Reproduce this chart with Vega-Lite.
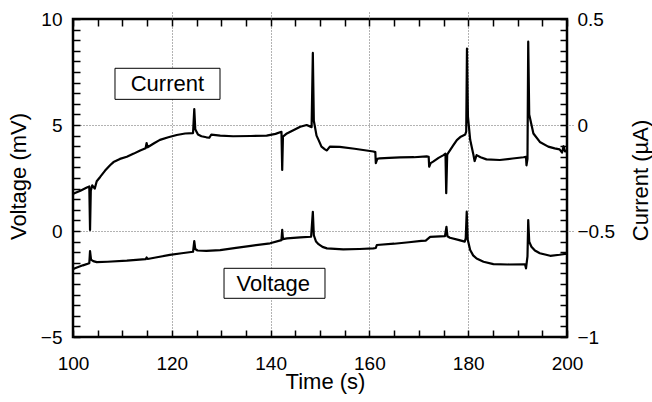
{
  "$schema": "https://vega.github.io/schema/vega-lite/v6.json",
  "width": 494,
  "height": 318,
  "autosize": "none",
  "padding": {"left": 73, "top": 19, "right": 85, "bottom": 65},
  "background": "white",
  "config": {
    "font": "Liberation Sans",
    "view": {"stroke": "black", "strokeWidth": 2.5},
    "axis": {
      "labelFont": "Liberation Sans",
      "titleFont": "Liberation Sans",
      "labelColor": "black",
      "titleColor": "black",
      "titleFontWeight": "normal",
      "labelFontSize": 19,
      "titleFontSize": 22,
      "domain": false,
      "labelOverlap": false,
      "labelFlush": false,
      "labelBound": false,
      "ticks": true,
      "tickSize": 7,
      "tickWidth": 1.5,
      "tickColor": "black",
      "tickCount": 200,
      "offset": -7
    }
  },
  "datasets": {
    "voltage": [
      {"t": 100.0, "mV": -1.8}, {"t": 100.4, "mV": -1.76}, {"t": 102.0, "mV": -1.62}, {"t": 103.3, "mV": -1.52},
      {"t": 103.45, "mV": -0.95}, {"t": 103.65, "mV": -1.35}, {"t": 104.1, "mV": -1.42}, {"t": 104.8, "mV": -1.47},
      {"t": 107.0, "mV": -1.45}, {"t": 110.9, "mV": -1.4}, {"t": 114.7, "mV": -1.33}, {"t": 114.9, "mV": -1.25},
      {"t": 115.1, "mV": -1.32}, {"t": 117.0, "mV": -1.24}, {"t": 119.6, "mV": -1.13}, {"t": 122.0, "mV": -1.05},
      {"t": 124.3, "mV": -0.98}, {"t": 124.55, "mV": -0.48}, {"t": 124.75, "mV": -0.85}, {"t": 125.2, "mV": -0.92},
      {"t": 127.0, "mV": -0.94}, {"t": 129.8, "mV": -0.9}, {"t": 133.0, "mV": -0.8}, {"t": 136.0, "mV": -0.7},
      {"t": 139.9, "mV": -0.58}, {"t": 142.2, "mV": -0.43}, {"t": 142.35, "mV": 0.05}, {"t": 142.5, "mV": -0.38},
      {"t": 143.3, "mV": -0.35}, {"t": 146.0, "mV": -0.3}, {"t": 148.2, "mV": -0.27}, {"t": 148.55, "mV": 0.9},
      {"t": 148.75, "mV": -0.2}, {"t": 149.2, "mV": -0.5}, {"t": 149.7, "mV": -0.62}, {"t": 150.5, "mV": -0.75},
      {"t": 151.4, "mV": -0.82}, {"t": 154.7, "mV": -0.87}, {"t": 158.0, "mV": -0.85}, {"t": 160.8, "mV": -0.82},
      {"t": 161.3, "mV": -0.8}, {"t": 161.5, "mV": -0.66}, {"t": 165.0, "mV": -0.6}, {"t": 168.0, "mV": -0.53},
      {"t": 170.5, "mV": -0.47}, {"t": 171.4, "mV": -0.45}, {"t": 172.3, "mV": -0.28}, {"t": 175.3, "mV": -0.24},
      {"t": 175.6, "mV": 0.2}, {"t": 175.8, "mV": -0.25}, {"t": 176.3, "mV": -0.32}, {"t": 178.0, "mV": -0.42},
      {"t": 179.3, "mV": -0.5}, {"t": 179.5, "mV": -0.35}, {"t": 179.7, "mV": 0.91}, {"t": 179.9, "mV": -0.4},
      {"t": 180.4, "mV": -0.9}, {"t": 181.0, "mV": -1.15}, {"t": 181.7, "mV": -1.3}, {"t": 183.1, "mV": -1.45},
      {"t": 185.1, "mV": -1.56}, {"t": 188.0, "mV": -1.58}, {"t": 191.5, "mV": -1.57}, {"t": 191.7, "mV": -1.76},
      {"t": 192.0, "mV": -1.2}, {"t": 192.15, "mV": 0.52}, {"t": 192.35, "mV": -0.5}, {"t": 192.8, "mV": -0.74},
      {"t": 193.5, "mV": -0.92}, {"t": 194.5, "mV": -1.05}, {"t": 196.6, "mV": -1.17}, {"t": 198.5, "mV": -1.12},
      {"t": 200.0, "mV": -1.07}
    ],
    "current": [
      {"t": 100.0, "uA": -0.325}, {"t": 100.4, "uA": -0.321}, {"t": 101.5, "uA": -0.31}, {"t": 102.8, "uA": -0.295},
      {"t": 103.3, "uA": -0.29}, {"t": 103.45, "uA": -0.495}, {"t": 103.6, "uA": -0.31}, {"t": 103.9, "uA": -0.285},
      {"t": 104.4, "uA": -0.3}, {"t": 104.8, "uA": -0.265}, {"t": 105.5, "uA": -0.245}, {"t": 106.5, "uA": -0.215},
      {"t": 107.5, "uA": -0.19}, {"t": 108.2, "uA": -0.175}, {"t": 109.5, "uA": -0.16}, {"t": 110.9, "uA": -0.15},
      {"t": 112.3, "uA": -0.135}, {"t": 113.6, "uA": -0.12}, {"t": 114.7, "uA": -0.11}, {"t": 114.9, "uA": -0.085},
      {"t": 115.1, "uA": -0.105}, {"t": 116.5, "uA": -0.085}, {"t": 117.6, "uA": -0.07}, {"t": 119.3, "uA": -0.058},
      {"t": 121.0, "uA": -0.047}, {"t": 122.7, "uA": -0.04}, {"t": 124.3, "uA": -0.038}, {"t": 124.55, "uA": 0.075},
      {"t": 124.75, "uA": -0.02}, {"t": 125.3, "uA": -0.045}, {"t": 126.0, "uA": -0.053}, {"t": 127.0, "uA": -0.058},
      {"t": 127.6, "uA": -0.06}, {"t": 128.0, "uA": -0.045}, {"t": 129.8, "uA": -0.05}, {"t": 132.4, "uA": -0.053},
      {"t": 136.0, "uA": -0.052}, {"t": 139.2, "uA": -0.05}, {"t": 141.0, "uA": -0.042}, {"t": 142.2, "uA": -0.032},
      {"t": 142.35, "uA": -0.212}, {"t": 142.5, "uA": -0.055}, {"t": 143.3, "uA": -0.04}, {"t": 145.0, "uA": -0.02},
      {"t": 146.0, "uA": -0.008}, {"t": 147.3, "uA": 0.0}, {"t": 148.3, "uA": -0.01}, {"t": 148.55, "uA": 0.34},
      {"t": 148.75, "uA": 0.02}, {"t": 149.3, "uA": -0.05}, {"t": 149.7, "uA": -0.07}, {"t": 150.3, "uA": -0.102},
      {"t": 151.0, "uA": -0.115}, {"t": 151.4, "uA": -0.12}, {"t": 152.0, "uA": -0.102}, {"t": 154.0, "uA": -0.103},
      {"t": 157.0, "uA": -0.112}, {"t": 160.8, "uA": -0.125}, {"t": 161.2, "uA": -0.128}, {"t": 161.3, "uA": -0.18},
      {"t": 161.6, "uA": -0.16}, {"t": 162.1, "uA": -0.157}, {"t": 164.0, "uA": -0.155}, {"t": 166.2, "uA": -0.153},
      {"t": 169.0, "uA": -0.152}, {"t": 171.6, "uA": -0.148}, {"t": 172.0, "uA": -0.15}, {"t": 172.1, "uA": -0.197},
      {"t": 172.4, "uA": -0.18}, {"t": 172.9, "uA": -0.173}, {"t": 174.0, "uA": -0.155}, {"t": 175.0, "uA": -0.142},
      {"t": 175.4, "uA": -0.135}, {"t": 175.55, "uA": -0.322}, {"t": 175.75, "uA": -0.14}, {"t": 176.0, "uA": -0.13},
      {"t": 177.0, "uA": -0.095}, {"t": 177.7, "uA": -0.071}, {"t": 178.5, "uA": -0.055}, {"t": 179.4, "uA": -0.045},
      {"t": 179.6, "uA": -0.03}, {"t": 179.75, "uA": 0.36}, {"t": 179.95, "uA": 0.04}, {"t": 180.4, "uA": -0.07},
      {"t": 181.0, "uA": -0.134}, {"t": 181.3, "uA": -0.17}, {"t": 181.7, "uA": -0.142}, {"t": 182.5, "uA": -0.152},
      {"t": 183.7, "uA": -0.162}, {"t": 186.4, "uA": -0.165}, {"t": 189.0, "uA": -0.158}, {"t": 191.2, "uA": -0.152},
      {"t": 191.7, "uA": -0.15}, {"t": 191.8, "uA": -0.19}, {"t": 192.0, "uA": -0.16}, {"t": 192.15, "uA": 0.393},
      {"t": 192.35, "uA": 0.05}, {"t": 193.2, "uA": -0.04}, {"t": 194.5, "uA": -0.08}, {"t": 196.2, "uA": -0.102},
      {"t": 197.5, "uA": -0.11}, {"t": 198.5, "uA": -0.115}, {"t": 199.0, "uA": -0.13}, {"t": 199.3, "uA": -0.1},
      {"t": 199.6, "uA": -0.125}, {"t": 200.0, "uA": -0.12}
    ],
    "boxes": [
      {"label": "Current", "t1": 108.5, "t2": 129.76, "v1": 7.675, "v2": 6.21, "tc": 119.1, "vb": 6.6},
      {"label": "Voltage", "t1": 130.57, "t2": 151.01, "v1": -1.76, "v2": -3.175, "tc": 140.55, "vb": -2.83}
    ]
  },
  "layer": [
    {
      "layer": [
        {
          "data": {"name": "voltage"},
          "mark": {"type": "line", "color": "black", "strokeWidth": 2.2, "strokeJoin": "round"},
          "encoding": {
            "x": {
              "field": "t", "type": "quantitative", "title": "Time (s)",
              "scale": {"domain": [100, 200], "nice": false, "zero": false},
              "axis": {
                "orient": "bottom",
                "values": [100, 105, 110, 115, 120, 125, 130, 135, 140, 145, 150, 155, 160, 165, 170, 175, 180, 185, 190, 195, 200],
                "tickCount": 200,
                "format": "d",
                "labelExpr": "abs(datum.value / 20 - round(datum.value / 20)) < 0.001 ? datum.label : ''",
                "labelBaseline": "alphabetic",
                "labelPadding": 32,
                "grid": true,
                "gridColor": "#666666",
                "gridDash": [1, 2],
                "gridWidth": 1,
                "gridOpacity": {"condition": {"test": "abs(datum.value / 20 - round(datum.value / 20)) < 0.001 && datum.value > 101 && datum.value < 199", "value": 1}, "value": 0},
                "titleX": 252,
                "titleY": 58.5,
                "titleBaseline": "alphabetic"
              }
            },
            "y": {
              "field": "mV", "type": "quantitative", "title": "Voltage (mV)",
              "scale": {"domain": [-5, 10], "nice": false, "zero": false},
              "axis": {
                "orient": "left",
                "values": [-5, -4.5, -4, -3.5, -3, -2.5, -2, -1.5, -1, -0.5, 0, 0.5, 1, 1.5, 2, 2.5, 3, 3.5, 4, 4.5, 5, 5.5, 6, 6.5, 7, 7.5, 8, 8.5, 9, 9.5, 10],
                "tickCount": 200,
                "labelExpr": "abs(datum.value / 5 - round(datum.value / 5)) < 0.001 ? format(datum.value, '~g') : ''",
                "labelPadding": 11,
                "labelBaseline": "middle",
                "grid": true,
                "gridColor": "#666666",
                "gridDash": [1, 2],
                "gridWidth": 1,
                "gridOpacity": {"condition": {"test": "abs(datum.value) < 0.01 || abs(datum.value - 5) < 0.01", "value": 1}, "value": 0},
                "titleAngle": 270,
                "titleX": -54.5,
                "titleY": 157,
                "titleBaseline": "alphabetic",
                "titleAlign": "center"
              }
            }
          }
        },
        {
          "data": {"name": "boxes"},
          "mark": {"type": "rect", "fill": "white", "stroke": "black", "strokeWidth": 1},
          "encoding": {
            "x": {"field": "t1", "type": "quantitative", "title": "Time (s)"},
            "x2": {"field": "t2"},
            "y": {"field": "v1", "type": "quantitative", "title": "Voltage (mV)"},
            "y2": {"field": "v2"}
          }
        },
        {
          "data": {"name": "boxes"},
          "mark": {"type": "text", "fontSize": 22, "baseline": "alphabetic", "align": "center", "color": "black", "font": "Liberation Sans"},
          "encoding": {
            "x": {"field": "tc", "type": "quantitative", "title": "Time (s)"},
            "y": {"field": "vb", "type": "quantitative", "title": "Voltage (mV)"},
            "text": {"field": "label"}
          }
        }
      ]
    },
    {
      "data": {"name": "current"},
      "mark": {"type": "line", "color": "black", "strokeWidth": 2.2, "strokeJoin": "round"},
      "encoding": {
        "x": {
          "field": "t", "type": "quantitative",
          "axis": {
            "orient": "top",
            "title": null,
            "labels": false,
            "grid": false,
            "tickCount": 200,
            "values": [100, 105, 110, 115, 120, 125, 130, 135, 140, 145, 150, 155, 160, 165, 170, 175, 180, 185, 190, 195, 200]
          }
        },
        "y": {
          "field": "uA", "type": "quantitative", "title": "Current (µA)",
          "scale": {"domain": [-1, 0.5], "nice": false, "zero": false},
          "axis": {
            "orient": "right",
            "values": [-1, -0.95, -0.9, -0.85, -0.8, -0.75, -0.7, -0.65, -0.6, -0.55, -0.5, -0.45, -0.4, -0.35, -0.3, -0.25, -0.2, -0.15, -0.1, -0.05, 0, 0.05, 0.1, 0.15, 0.2, 0.25, 0.3, 0.35, 0.4, 0.45, 0.5],
            "tickCount": 200,
            "labelExpr": "abs(datum.value * 2 - round(datum.value * 2)) < 0.001 ? format(datum.value, '~g') : ''",
            "labelPadding": 10,
            "labelBaseline": "middle",
            "grid": false,
            "titleAngle": 270,
            "titleX": 87.5,
            "titleY": 161,
            "titleBaseline": "alphabetic",
            "titleAlign": "center"
          }
        }
      }
    }
  ],
  "resolve": {
    "scale": {"y": "independent"},
    "axis": {"x": "independent", "y": "independent"}
  }
}
